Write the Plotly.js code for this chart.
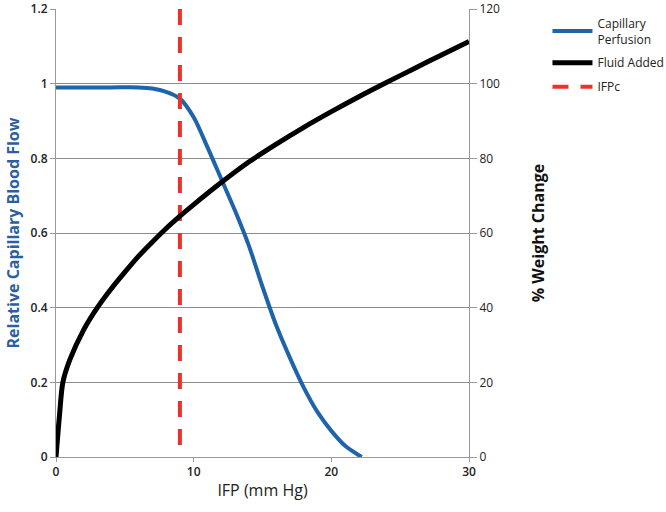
<!DOCTYPE html>
<html>
<head>
<meta charset="utf-8">
<script src="https://cdn.plot.ly/plotly-3.0.1.min.js"></script>
<style>
  body { margin: 0; background: #fff; }
  #chart { width: 666px; height: 512px; }
</style>
</head>
<body>
<div id="chart"></div>
<script>
// Capillary perfusion (left axis, relative flow)
var perfIfp = [0, 2, 4, 6, 7, 8, 9, 10, 11, 12, 13, 14, 15, 16, 17, 18, 19, 20, 21, 22.2];
var perfFlow = [0.99, 0.99, 0.99, 0.99, 0.987, 0.978, 0.96, 0.91, 0.83, 0.745, 0.66, 0.567, 0.456, 0.352, 0.265, 0.186, 0.12, 0.07, 0.03, 0];

// Fluid added (right axis, % weight change)
var fluidIfp = [0, 0.25, 0.5, 1, 2, 3, 4, 5, 6, 7, 8, 9, 10, 12, 14, 16, 18, 20, 22, 24, 26, 28, 30];
var fluidWeight = [0, 11, 20, 26, 34, 40, 45, 49.5, 53.8, 57.6, 61.2, 64.5, 67.6, 73.5, 79, 83.8, 88.3, 92.5, 96.5, 100.3, 104, 107.7, 111.3];

// critical IFP marker (drawn top-down so the dash pattern starts at the top)
var ifpcX = [9, 9];
var ifpcY = [1.2, 0];

var xTicks = [0, 10, 20, 30];
var leftTicks = [0, 0.2, 0.4, 0.6, 0.8, 1, 1.2];
var leftLabels = ['0', '0.2', '0.4', '0.6', '0.8', '1', '1.2'];
var rightTicks = [0, 20, 40, 60, 80, 100, 120];

var trace1 = {
  x: perfIfp,
  y: perfFlow,
  mode: 'lines',
  name: 'Capillary<br>Perfusion',
  legendgroup: 'perf',
  line: {color: '#1f64aa', width: 4, shape: 'spline', smoothing: 0.8},
  type: 'scatter'
};

var trace2 = {
  x: fluidIfp,
  y: fluidWeight,
  yaxis: 'y2',
  mode: 'lines',
  name: 'Fluid Added',
  legendgroup: 'fluid',
  line: {color: '#000000', width: 5, shape: 'spline', smoothing: 0.8},
  type: 'scatter'
};

var trace3 = {
  x: ifpcX,
  y: ifpcY,
  mode: 'lines',
  name: 'IFPc',
  legendgroup: 'ifpc',
  line: {color: '#e8332b', width: 4, dash: '16px,12px'},
  type: 'scatter'
};

var data = [trace1, trace2, trace3];

var layout = {
  width: 666,
  height: 512,
  margin: {l: 56, r: 197, t: 9, b: 55, autoexpand: false},
  paper_bgcolor: '#fff',
  plot_bgcolor: '#fff',
  font: {family: 'Open Sans, sans-serif', color: '#222', size: 12},
  showlegend: true,
  xaxis: {
    title: {text: 'IFP (mm Hg)', font: {size: 16, color: '#222'}, standoff: 5},
    range: [0, 30],
    tickvals: xTicks,
    ticks: 'outside',
    ticklen: 4,
    tickcolor: '#999',
    showline: true,
    linecolor: '#999',
    linewidth: 1,
    showgrid: false,
    zeroline: false,
    tickfont: {size: 12, color: '#222', weight: 600}
  },
  yaxis: {
    title: {text: 'Relative Capillary Blood Flow', font: {size: 16, color: '#2b5f9f', weight: 'bold'}, standoff: 6},
    range: [0, 1.2],
    tickvals: leftTicks,
    ticktext: leftLabels,
    ticks: 'outside',
    ticklen: 5,
    tickcolor: '#999',
    showline: true,
    linecolor: '#999',
    showgrid: true,
    gridcolor: '#8c8c8c',
    gridwidth: 1,
    zeroline: false,
    tickfont: {size: 12, color: '#222', weight: 600}
  },
  yaxis2: {
    title: {text: '% Weight Change', font: {size: 16, color: '#111', weight: 'bold'}, standoff: 33},
    overlaying: 'y',
    side: 'right',
    range: [0, 120],
    tickvals: rightTicks,
    ticks: 'outside',
    ticklen: 7,
    tickcolor: '#999',
    showline: true,
    linecolor: '#999',
    showgrid: false,
    zeroline: false,
    tickfont: {size: 12, color: '#222'}
  },
  legend: {
    x: 1.19,
    y: 1.0,
    xanchor: 'left',
    yanchor: 'top',
    traceorder: 'grouped',
    tracegroupgap: 5,
    font: {size: 12, color: '#222'},
    itemwidth: 40,
    bgcolor: 'rgba(0,0,0,0)'
  }
};

Plotly.newPlot('chart', data, layout, {displayModeBar: false});
</script>
</body>
</html>
